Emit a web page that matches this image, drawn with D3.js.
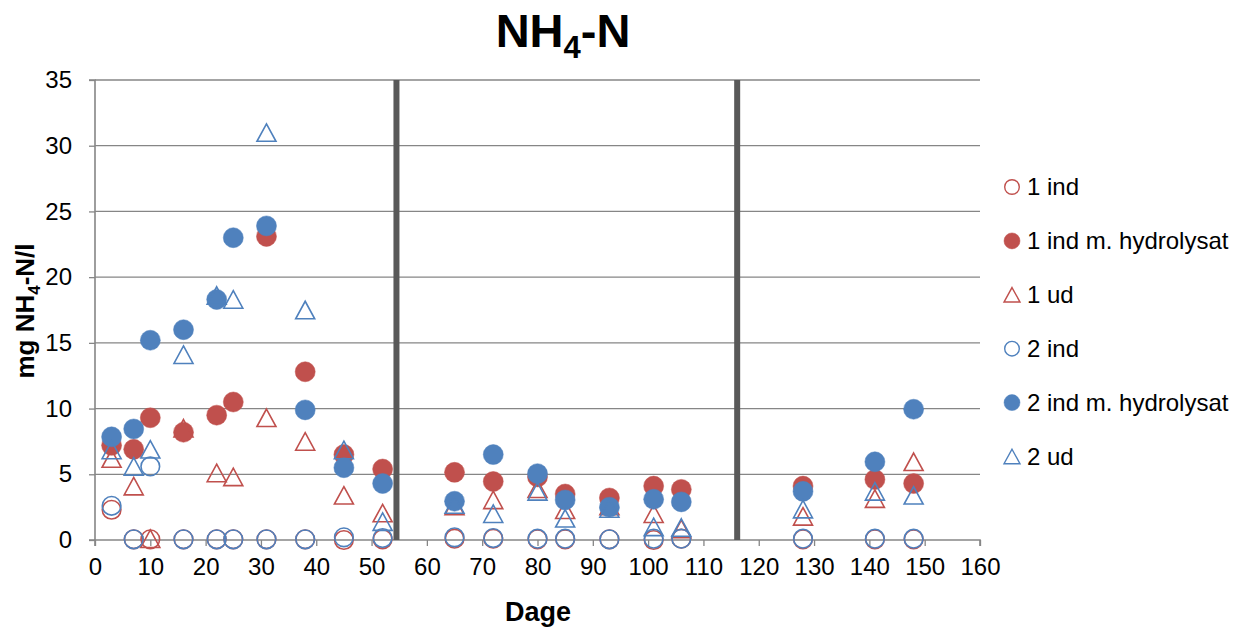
<!DOCTYPE html>
<html><head><meta charset="utf-8">
<script src="https://cdn.jsdelivr.net/npm/d3@7"></script>
<style>body{margin:0;background:#fff}svg{display:block}</style>
</head><body>
<svg id="chart" width="1238" height="628"></svg>
<script>
const days = [3,7,10,16,22,25,31,38,45,52,65,72,80,85,93,101,106,128,141,148];
const ind1 = [2.3,0.05,0.05,0.05,0.05,0.05,0.05,0.05,0.0,0.05,0.1,0.1,0.05,0.05,0.05,0.0,0.1,0.05,0.05,0.05];
const hyd1 = [7.2,6.9,9.3,8.2,9.5,10.5,23.1,12.8,6.5,5.4,5.15,4.45,4.8,3.5,3.2,4.1,3.85,4.1,4.6,4.3];
const ud1  = [6.2,4.1,0.1,8.5,5.1,4.8,9.3,7.5,3.4,2.05,2.6,3.05,3.9,2.3,2.6,2.0,0.85,1.8,3.15,5.95];
const ind2 = [2.6,0.05,5.6,0.05,0.05,0.05,0.05,0.05,0.2,0.15,0.2,0.15,0.1,0.1,0.05,0.1,0.1,0.1,0.1,0.1];
const hyd2 = [7.85,8.45,15.2,16.0,18.3,23.0,23.9,9.9,5.5,4.3,2.95,6.5,5.05,3.05,2.5,3.1,2.9,3.7,5.95,9.95];
const ud2  = [6.85,5.6,6.9,14.1,18.6,18.3,31.0,17.5,6.85,1.4,2.7,2.0,3.7,1.65,2.4,1.0,0.95,2.35,3.7,3.4];
const seriesNames = ["1 ind","1 ind m. hydrolysat","1 ud","2 ind","2 ind m. hydrolysat","2 ud"];
const phaseBreaks = [54.5, 116.1];
const xTicks = d3.range(0, 161, 10);
const yTicks = d3.range(0, 36, 5);

const RED = "#C0504D", BLUE = "#4F81BD";
const series = [
  {name: seriesNames[0], vals: ind1, color: RED, shape: "circle", fill: false},
  {name: seriesNames[1], vals: hyd1, color: RED, shape: "circle", fill: true},
  {name: seriesNames[2], vals: ud1, color: RED, shape: "tri", fill: false},
  {name: seriesNames[3], vals: ind2, color: BLUE, shape: "circle", fill: false},
  {name: seriesNames[4], vals: hyd2, color: BLUE, shape: "circle", fill: true},
  {name: seriesNames[5], vals: ud2, color: BLUE, shape: "tri", fill: false}
];

const FONT = "'Liberation Sans',Arial,sans-serif";
const svg = d3.select("#chart");
const L = 95, R = 980, T = 80, B = 540;
const x = d3.scaleLinear().domain([0,160]).range([L,R]);
const y = d3.scaleLinear().domain([0,35]).range([B,T]);
const AX = "#868686";

// gridlines
svg.append("g").selectAll("line").data(yTicks.filter(d=>d>0)).join("line")
  .attr("x1",L).attr("x2",R).attr("y1",d=>y(d)).attr("y2",d=>y(d))
  .attr("stroke",AX).attr("stroke-width",1.3);

// axes
const yAxis = svg.append("g").attr("transform",`translate(${L},0)`)
  .call(d3.axisLeft(y).tickValues(yTicks).tickSize(6).tickPadding(17).tickFormat(d3.format("d")));
const xAxis = svg.append("g").attr("transform",`translate(0,${B})`)
  .call(d3.axisBottom(x).tickValues(xTicks).tickSize(6).tickPadding(12).tickFormat(d3.format("d")));
[yAxis,xAxis].forEach(g=>{
  g.select(".domain").attr("stroke",AX).attr("stroke-width",1.6);
  g.selectAll(".tick line").attr("stroke",AX).attr("stroke-width",1.3);
  g.selectAll("text").attr("fill","#000").style("font-family",FONT).style("font-size","24px");
});
yAxis.select(".domain").attr("d",`M-6,${B}H0V${T}H-6`);
xAxis.select(".domain").attr("d",`M${L},6V0H${R}V6`);

// phase break lines
svg.append("g").selectAll("line").data(phaseBreaks).join("line")
  .attr("x1",d=>x(d)).attr("x2",d=>x(d)).attr("y1",T).attr("y2",B)
  .attr("stroke","#595959").attr("stroke-width",6);

function triPath(w,h){ return `M0,${-h/2}L${w/2},${h/2}L${-w/2},${h/2}Z`; }

const plot = svg.append("g");
series.forEach(s=>{
  const g = plot.append("g");
  const pts = days.map((d,i)=>({d, v:s.vals[i]}));
  if (s.shape==="circle") {
    g.selectAll("circle").data(pts).join("circle")
      .attr("cx",p=>x(p.d)).attr("cy",p=>y(p.v))
      .attr("r", s.fill?10:9.3)
      .attr("fill", s.fill?s.color:"none")
      .attr("stroke", s.color).attr("stroke-width", s.fill?0.5:1.6);
  } else {
    g.selectAll("path").data(pts).join("path")
      .attr("transform",p=>`translate(${x(p.d)},${y(p.v)})`)
      .attr("d",triPath(19,17.5))
      .attr("fill","none").attr("stroke",s.color).attr("stroke-width",1.6);
  }
});

// legend
const lg = svg.append("g");
series.forEach((s,i)=>{
  const cy = 187 + i*53.9;
  if (s.shape==="circle") {
    lg.append("circle").attr("cx",1012).attr("cy",cy).attr("r",s.fill?8:7.3)
      .attr("fill",s.fill?s.color:"none").attr("stroke",s.color).attr("stroke-width",s.fill?0.5:1.4);
  } else {
    lg.append("path").attr("transform",`translate(1012,${cy})`).attr("d",triPath(16,14.5))
      .attr("fill","none").attr("stroke",s.color).attr("stroke-width",1.4);
  }
  lg.append("text").attr("x",1027).attr("y",cy).attr("dy","0.35em")
    .style("font-family",FONT).style("font-size","24px").text(s.name);
});

// title
const title = svg.append("text").attr("x",563).attr("y",47).attr("text-anchor","middle")
  .style("font-family",FONT).style("font-size","47px").style("font-weight","bold");
title.append("tspan").text("NH");
title.append("tspan").attr("dy",11).style("font-size","31px").text("4");
title.append("tspan").attr("dy",-11).text("-N");

// y title
const yt = svg.append("text").attr("transform","translate(34,311) rotate(-90)").attr("text-anchor","middle")
  .style("font-family",FONT).style("font-size","26px").style("font-weight","bold");
yt.append("tspan").text("mg NH");
yt.append("tspan").attr("dy",6).style("font-size","17px").text("4");
yt.append("tspan").attr("dy",-6).text("-N/l");

// x title
svg.append("text").attr("x",538).attr("y",621).attr("text-anchor","middle")
  .style("font-family",FONT).style("font-size","27px").style("font-weight","bold").text("Dage");
</script>
</body></html>
